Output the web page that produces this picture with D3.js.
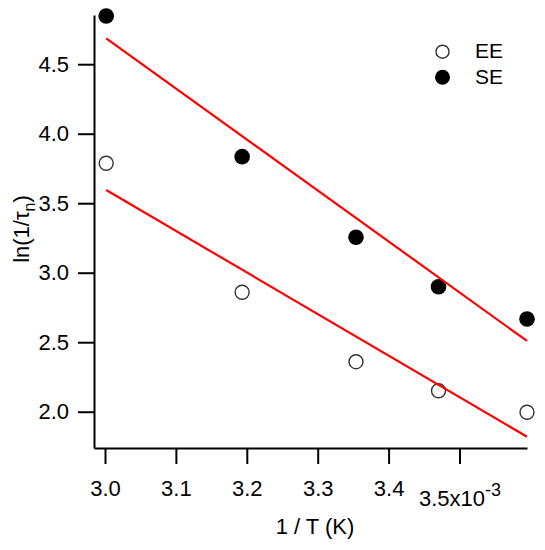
<!DOCTYPE html>
<html>
<head>
<meta charset="utf-8">
<script src="https://cdn.jsdelivr.net/npm/d3@7"></script>
<style>
  body { margin: 0; background: #fff; }
  text { font-family: "Liberation Sans", Arial, sans-serif; fill: #000; }
</style>
</head>
<body>
<svg id="chart" width="545" height="550"></svg>
<script>
// 1/T values (x10^-3 K^-1)
const invT = [3.0017, 3.1934, 3.354, 3.4704, 3.5952];
const seValues = [4.847, 3.835, 3.255, 2.899, 2.667];
const eeValues = [3.787, 2.859, 2.36, 2.151, 1.996];
// red fit lines, values at the first and last x
const fitX = [3.0017, 3.5952];
const seFit = [4.686, 2.509];
const eeFit = [3.595, 1.82];
const xTicks = [3.0, 3.1, 3.2, 3.3, 3.4, 3.5];
const yTicks = [2.0, 2.5, 3.0, 3.5, 4.0, 4.5];
const legendItems = ["EE", "SE"];

const svg = d3.select("#chart");

const x = d3.scaleLinear().domain([2.9845, 3.5952]).range([94, 527]);
const y = d3.scaleLinear().domain([1.739, 4.854]).range([448, 15]);

// markers first, the fit lines are drawn over them
svg.append("g")
  .selectAll("circle")
  .data(invT.map((d, i) => [d, eeValues[i]]))
  .join("circle")
  .attr("cx", d => x(d[0]))
  .attr("cy", d => y(d[1]))
  .attr("r", 7)
  .attr("fill", "#fff")
  .attr("stroke", "#333")
  .attr("stroke-width", 1.4);

svg.append("g")
  .selectAll("circle")
  .data(invT.map((d, i) => [d, seValues[i]]))
  .join("circle")
  .attr("cx", d => x(d[0]))
  .attr("cy", d => y(d[1]))
  .attr("r", 7.8)
  .attr("fill", "#000");

const line = d3.line().x(d => x(d[0])).y(d => y(d[1]));
[seFit, eeFit].forEach(f => {
  svg.append("path")
    .datum(fitX.map((d, i) => [d, f[i]]))
    .attr("d", line)
    .attr("fill", "none")
    .attr("stroke", "#ff0000")
    .attr("stroke-width", 2.2);
});

// axes
const xAxis = svg.append("g")
  .attr("transform", "translate(0,448)")
  .call(d3.axisBottom(x).tickValues(xTicks).tickSize(16).tickSizeOuter(0)
    .tickPadding(16).tickFormat(d3.format(".1f")));

const yAxis = svg.append("g")
  .attr("transform", "translate(94,0)")
  .call(d3.axisLeft(y).tickValues(yTicks).tickSize(16).tickSizeOuter(0)
    .tickPadding(9).tickFormat(d3.format(".1f")));

[xAxis, yAxis].forEach(a => {
  a.select(".domain").attr("stroke", "#000").attr("stroke-width", 2);
  a.selectAll(".tick line").attr("stroke", "#000").attr("stroke-width", 2);
  a.selectAll(".tick text")
    .style("font-family", '"Liberation Sans", Arial, sans-serif')
    .style("font-size", "22px")
    .attr("fill", "#000");
});

// last x tick carries the exponent
xAxis.selectAll(".tick text")
  .filter(d => d === 3.5)
  .text(null)
  .attr("y", 42)
  .call(t => {
    t.append("tspan").text("3.5x10");
    t.append("tspan").text("-3").attr("dy", -10).style("font-size", "18px");
  });

// axis titles
svg.append("text")
  .attr("x", 315)
  .attr("y", 534)
  .attr("text-anchor", "middle")
  .style("font-size", "22px")
  .text("1 / T (K)");

const yTitle = svg.append("text")
  .attr("transform", "translate(29,229) rotate(-90)")
  .attr("text-anchor", "middle")
  .style("font-size", "22px");
yTitle.append("tspan").text("ln(1/τ");
yTitle.append("tspan").text("n").attr("dy", 6).style("font-size", "16px");
yTitle.append("tspan").text(")").attr("dy", -6);

// legend
const legend = svg.append("g");
legendItems.forEach((name, i) => {
  const cy = 51.7 + i * 25.5;
  const c = legend.append("circle").attr("cx", 442.5).attr("cy", cy);
  if (name === "EE") {
    c.attr("r", 6.5).attr("fill", "#fff").attr("stroke", "#333").attr("stroke-width", 1.4);
  } else {
    c.attr("r", 7.5).attr("fill", "#000");
  }
  legend.append("text")
    .attr("x", 475)
    .attr("y", cy + 6.5)
    .style("font-size", "21px")
    .text(name);
});
</script>
</body>
</html>
